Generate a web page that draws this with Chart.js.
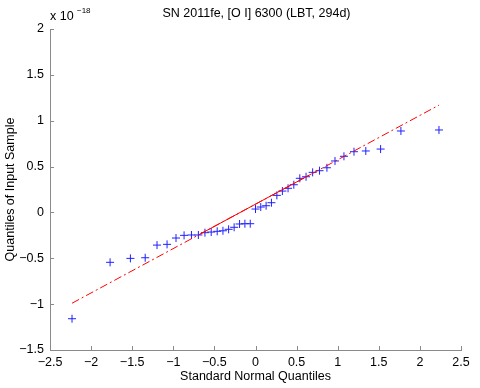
<!DOCTYPE html>
<html>
<head>
<meta charset="utf-8">
<title>SN 2011fe QQ plot</title>
<script src="https://cdn.jsdelivr.net/npm/chart.js@4"></script>
<style>
  body { margin: 0; background: #fff; }
  canvas { display: block; }
</style>
</head>
<body>
<canvas id="qqChart" width="480" height="388"></canvas>
<script>
// standard normal quantiles (x) and sample quantiles in units of 1e-18 (y)
const normQuantiles = [
  -2.232, -1.769, -1.522, -1.342, -1.198, -1.076, -0.967, -0.869, -0.779, -0.695,
  -0.615, -0.539, -0.466, -0.396, -0.327, -0.260, -0.194, -0.129, -0.064, 0,
  0.064, 0.129, 0.194, 0.260, 0.327, 0.396, 0.466, 0.539, 0.615, 0.695,
  0.779, 0.869, 0.967, 1.076, 1.198, 1.342, 1.522, 1.769, 2.232
]
const sampleQuantiles = [
  -1.159, -0.544, -0.501, -0.494, -0.356, -0.348, -0.279, -0.250, -0.246, -0.246,
  -0.221, -0.214, -0.206, -0.200, -0.184, -0.162, -0.126, -0.123, -0.123, 0.037,
  0.059, 0.073, 0.106, 0.186, 0.233, 0.263, 0.302, 0.372, 0.389, 0.437,
  0.455, 0.487, 0.561, 0.612, 0.662, 0.670, 0.691, 0.888, 0.899
]
// reference line: dash-dot over the full range, solid between the quartiles
const fitX = [-2.232, 2.232]
const fitY = [-0.990, 1.170]
const quartX = [-0.674, 0.674]
const quartY = [-0.236, 0.416]

const xTicks = [-2.5, -2, -1.5, -1, -0.5, 0, 0.5, 1, 1.5, 2, 2.5]
const yTicks = [-1.5, -1, -0.5, 0, 0.5, 1, 1.5, 2]

const chartTitle = 'SN 2011fe, [O I] 6300 (LBT, 294d)'
const xLabel = 'Standard Normal Quantiles'
const yLabel = 'Quantiles of Input Sample'

const FONT = '"Liberation Sans", Arial, Helvetica, sans-serif'
const FSIZE = 12.5
const AXIS_GRAY = '#8a8a8a'

function toPts(xs, ys) {
  return xs.map((x, i) => ({ x: x, y: ys[i] }))
}

function fmt(v) {
  return String(Math.round(v * 10) / 10).replace('-', '\u2212')
}

// inward tick marks, title and the exponent label
const matlabBits = {
  id: 'matlabBits',
  afterDraw(chart) {
    const ctx = chart.ctx
    const area = chart.chartArea
    const xs = chart.scales.x
    const ys = chart.scales.y
    ctx.save()
    ctx.strokeStyle = AXIS_GRAY
    ctx.lineWidth = 1
    ctx.beginPath()
    xTicks.forEach(v => {
      const px = Math.round(xs.getPixelForValue(v)) + 0.5
      ctx.moveTo(px, area.bottom)
      ctx.lineTo(px, area.bottom - 4)
    })
    yTicks.forEach(v => {
      const py = Math.round(ys.getPixelForValue(v)) + 0.5
      ctx.moveTo(area.left, py)
      ctx.lineTo(area.left + 4, py)
    })
    ctx.stroke()

    ctx.fillStyle = '#000'
    ctx.textBaseline = 'middle'
    ctx.textAlign = 'center'
    ctx.font = FSIZE + 'px ' + FONT
    ctx.fillText(chartTitle, (area.left + area.right) / 2 + 1, 14)

    ctx.textAlign = 'left'
    ctx.fillText('x 10', 50, 17)
    ctx.font = '8px ' + FONT
    ctx.fillText('\u221218', 77, 11)
    ctx.restore()
  }
}

document.addEventListener('DOMContentLoaded', function() {
  const ctx = document.getElementById('qqChart').getContext('2d')
  new Chart(ctx, {
    type: 'scatter',
    data: {
      datasets: [
        {
          label: 'fit (extended)',
          type: 'line',
          data: toPts(fitX, fitY),
          borderColor: '#ff0000',
          borderWidth: 1,
          borderDash: [8, 3, 2, 3],
          pointRadius: 0,
          fill: false
        },
        {
          label: 'fit (quartiles)',
          type: 'line',
          data: toPts(quartX, quartY),
          borderColor: '#ff0000',
          borderWidth: 1,
          pointRadius: 0,
          fill: false
        },
        {
          label: 'sample',
          data: toPts(normQuantiles, sampleQuantiles),
          pointStyle: 'cross',
          pointRadius: 4,
          borderColor: '#2020ff',
          backgroundColor: '#2020ff',
          borderWidth: 1
        }
      ]
    },
    options: {
      responsive: false,
      animation: false,
      layout: { padding: { top: 29, right: 19, left: 0, bottom: 0 } },
      plugins: {
        legend: { display: false },
        tooltip: { enabled: false }
      },
      scales: {
        x: {
          type: 'linear',
          min: -2.5,
          max: 2.5,
          afterBuildTicks: s => { s.ticks = xTicks.map(v => ({ value: v })) },
          afterFit: s => { s.height = 38 },
          grid: { drawOnChartArea: false, drawTicks: false },
          border: { color: AXIS_GRAY, width: 1 },
          ticks: {
            padding: 5,
            color: '#000',
            maxRotation: 0,
            font: { family: FONT, size: FSIZE },
            callback: v => fmt(v)
          },
          title: {
            display: true,
            text: xLabel,
            color: '#000',
            padding: { top: 0, bottom: 4 },
            font: { family: FONT, size: FSIZE }
          }
        },
        y: {
          type: 'linear',
          min: -1.5,
          max: 2,
          afterBuildTicks: s => { s.ticks = yTicks.map(v => ({ value: v })) },
          afterFit: s => { s.width = 50 },
          grid: { drawOnChartArea: false, drawTicks: false },
          border: { color: AXIS_GRAY, width: 1 },
          ticks: {
            padding: 6,
            color: '#000',
            font: { family: FONT, size: FSIZE },
            callback: v => fmt(v)
          },
          title: {
            display: true,
            text: yLabel,
            color: '#000',
            padding: { top: 3, bottom: 0 },
            font: { family: FONT, size: FSIZE }
          }
        }
      }
    },
    plugins: [matlabBits]
  })
})
</script>
</body>
</html>
